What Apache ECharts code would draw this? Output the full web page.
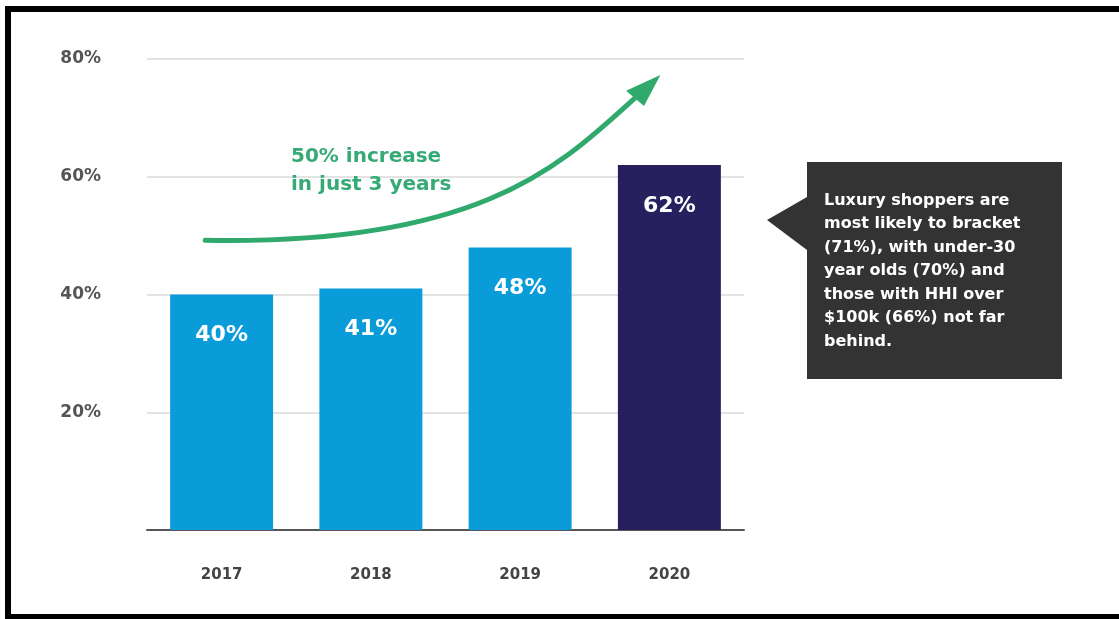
<!DOCTYPE html>
<html>
<head>
<meta charset="utf-8">
<script src="https://cdn.jsdelivr.net/npm/echarts@6/dist/echarts.min.js"></script>
<style>
  html, body { margin: 0; padding: 0; background: #ffffff; }
  #chart { width: 1119px; height: 619px; }
</style>
</head>
<body>
<div id="chart"></div>
<script>
// Share of shoppers who bracket, by year
const years = ['2017', '2018', '2019', '2020'];
const shares = [40, 41, 48, 62];
const barColors = ['#0a9bd9', '#0a9bd9', '#0a9bd9', '#26215e'];
const yTicks = [0, 20, 40, 60, 80];

const growthNote = ['50% increase', 'in just 3 years'];
const calloutLines = [
  'Luxury shoppers are',
  'most likely to bracket',
  '(71%), with under-30',
  'year olds (70%) and',
  'those with HHI over',
  '$100k (66%) not far',
  'behind.'
];

// Trend arrow, given in data space as [category position, percent]
const trendCurve = [[-0.11, 49.2], [1.735, 48.3], [2.27, 61.9], [2.77, 73.4]];
const trendHead = [[2.94, 77.3], [2.71, 74.6], [2.83, 72.0]];

const GREEN = '#2fa96c';
const FONT = '"DejaVu Sans", Verdana, sans-serif';

const chart = echarts.init(document.getElementById('chart'), null, { renderer: 'canvas' });

chart.setOption({
  animation: false,
  backgroundColor: '#ffffff',
  grid: { left: 147, right: 375, top: 59, bottom: 89, containLabel: false },
  xAxis: {
    type: 'category',
    data: years,
    axisTick: { show: false },
    axisLine: { show: true, lineStyle: { color: '#555555', width: 2 } },
    axisLabel: { color: '#444444', fontFamily: FONT, fontWeight: 'bold', fontSize: 15, margin: 38 }
  },
  yAxis: {
    type: 'value',
    min: yTicks[0],
    max: yTicks[yTicks.length - 1],
    interval: 20,
    axisLine: { show: false },
    axisTick: { show: false },
    splitLine: { lineStyle: { color: '#e3e3e3', width: 2 } },
    axisLabel: {
      color: '#555555', fontFamily: FONT, fontWeight: 'bold', fontSize: 17, margin: 46,
      formatter: v => (v === 0 ? '' : v + '%')
    }
  },
  series: [{
    type: 'bar',
    barWidth: '69%',
    data: shares.map((v, i) => ({ value: v, itemStyle: { color: barColors[i] } })),
    label: {
      show: true,
      position: 'insideTop',
      distance: 30,
      color: '#ffffff',
      fontFamily: FONT,
      fontWeight: 'bold',
      fontSize: 22,
      formatter: p => p.value + '%'
    }
  }]
});

// Map a [category position, percent] pair to pixels
function toPx(pt) {
  const a = chart.convertToPixel({ xAxisIndex: 0 }, years[0]);
  const b = chart.convertToPixel({ xAxisIndex: 0 }, years[1]);
  const y = chart.convertToPixel({ yAxisIndex: 0 }, pt[1]);
  return [a + (b - a) * pt[0], y];
}

const c = trendCurve.map(toPx);
const head = trendHead.map(toPx);

// Callout box with a pointer on its left side
const box = { x: 807, y: 162, w: 255, h: 217 };
const pointer = [[767, 220], [box.x, 197], [box.x, 250]];

chart.setOption({
  graphic: [
    {
      type: 'bezierCurve',
      shape: { x1: c[0][0], y1: c[0][1], cpx1: c[1][0], cpy1: c[1][1], cpx2: c[2][0], cpy2: c[2][1], x2: c[3][0], y2: c[3][1] },
      style: { stroke: GREEN, lineWidth: 5, fill: null, lineCap: 'round' },
      z: 10
    },
    {
      type: 'polygon',
      shape: { points: head },
      style: { fill: GREEN },
      z: 10
    },
    {
      type: 'text',
      left: 291, top: 143,
      style: {
        text: growthNote.join('\n'),
        fill: '#35aa74',
        font: 'bold 20px ' + FONT,
        lineHeight: 28
      },
      z: 10
    },
    {
      type: 'rect',
      shape: { x: box.x, y: box.y, width: box.w, height: box.h },
      style: { fill: '#333333' },
      z: 10
    },
    {
      type: 'polygon',
      shape: { points: pointer },
      style: { fill: '#333333' },
      z: 10
    },
    {
      type: 'text',
      left: 824, top: 189,
      style: {
        text: calloutLines.join('\n'),
        fill: '#ffffff',
        font: 'bold 16px ' + FONT,
        lineHeight: 23.5
      },
      z: 11
    },
    // picture frame
    { type: 'rect', shape: { x: 5, y: 6, width: 1114, height: 6 }, style: { fill: '#000000' }, z: 20 },
    { type: 'rect', shape: { x: 5, y: 6, width: 6, height: 613 }, style: { fill: '#000000' }, z: 20 },
    { type: 'rect', shape: { x: 5, y: 614, width: 1114, height: 5 }, style: { fill: '#000000' }, z: 20 }
  ]
});
</script>
</body>
</html>
